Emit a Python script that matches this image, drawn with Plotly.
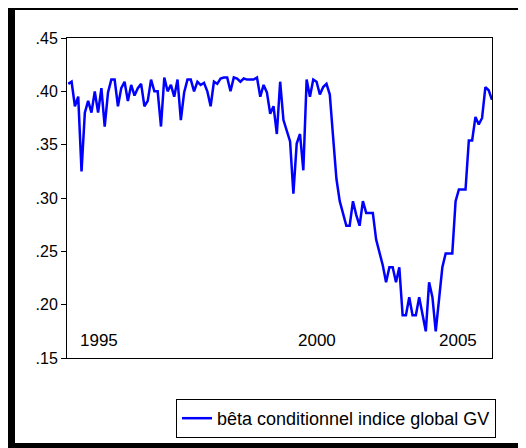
import plotly.graph_objects as go

series_name = "bêta conditionnel indice global GV"

beta_values = [
    0.407, 0.409, 0.386, 0.395, 0.325, 0.380, 0.391, 0.380, 0.400, 0.380,
    0.403, 0.367, 0.399, 0.411, 0.411, 0.386, 0.403, 0.409, 0.391, 0.406,
    0.396, 0.403, 0.407, 0.386, 0.391, 0.411, 0.400, 0.400, 0.367, 0.413,
    0.400, 0.406, 0.395, 0.411, 0.373, 0.399, 0.411, 0.411, 0.400, 0.409,
    0.406, 0.408, 0.400, 0.386, 0.409, 0.407, 0.412, 0.413, 0.413, 0.400,
    0.413, 0.412, 0.409, 0.412, 0.411, 0.411, 0.411, 0.413, 0.395, 0.406,
    0.399, 0.379, 0.386, 0.360,
    0.409, 0.373, 0.364, 0.353, 0.304, 0.351, 0.360, 0.326, 0.411, 0.395,
    0.411, 0.409, 0.397, 0.404, 0.407, 0.397, 0.357, 0.318, 0.297, 0.286,
    0.274, 0.274, 0.297, 0.284, 0.274, 0.297, 0.286, 0.286, 0.286, 0.261,
    0.250, 0.237, 0.221, 0.235, 0.235, 0.221, 0.235, 0.190, 0.190, 0.207,
    0.190, 0.190, 0.207, 0.190, 0.175, 0.221, 0.207, 0.175, 0.207, 0.235,
    0.248, 0.248, 0.248, 0.297, 0.308, 0.308, 0.308, 0.354, 0.354, 0.376,
    0.369, 0.375, 0.404, 0.401, 0.392,
]
obs_index = list(range(len(beta_values)))

year_labels = ["1995", "2000", "2005"]
year_tick_index = [9.3, 75.1, 117.7]

y_tick_values = [0.15, 0.20, 0.25, 0.30, 0.35, 0.40, 0.45]
y_tick_labels = [".15", ".20", ".25", ".30", ".35", ".40", ".45"]

FONT = "Liberation Sans, Arial, sans-serif"

fig = go.Figure()
fig.add_trace(go.Scatter(
    x=obs_index, y=beta_values, mode="lines", name=series_name,
    line=dict(color="#0000FF", width=2.5), showlegend=True,
))

# page body has an 8px margin, so figure px = window px - 8
W, H = 526, 448
L, T = 59, 30
pw, ph = 425, 320
R, B = W - L - pw, H - T - ph


def px_x(px):
    return (px - 67) / pw


def px_y(py):
    return (358 - py) / ph


frame = [
    (8, 5, 540, 10),
    (8, 5, 15, 460),
    (8, 443, 540, 460),
]
shapes = []
for x0, y0, x1, y1 in frame:
    shapes.append(dict(type="rect", xref="paper", yref="paper",
                       x0=px_x(x0), x1=px_x(x1), y0=px_y(y1), y1=px_y(y0),
                       fillcolor="black", line=dict(width=0), layer="above"))

annotations = []
for xv, lab in zip(year_tick_index, year_labels):
    annotations.append(dict(x=xv, y=px_y(340), xref="x", yref="paper",
                            text=lab, showarrow=False, xanchor="center",
                            yanchor="middle", font=dict(size=17, family=FONT,
                                                        color="black")))

fig.update_layout(
    width=W, height=H,
    margin=dict(l=L, r=R, t=T, b=B, autoexpand=False),
    paper_bgcolor="white", plot_bgcolor="white",
    font=dict(family=FONT, color="black", size=16),
    shapes=shapes,
    annotations=annotations,
    showlegend=True,
    legend=dict(x=px_x(496), xanchor="right", y=px_y(399), yanchor="top",
                bordercolor="black", borderwidth=1, bgcolor="white",
                font=dict(size=18, family=FONT, color="black")),
    xaxis=dict(range=[-0.39, 128.0], showgrid=False, zeroline=False,
               showline=True, linecolor="black", linewidth=1, mirror=True,
               showticklabels=False, ticks="", automargin=False),
    yaxis=dict(range=[0.15, 0.45], showgrid=False, zeroline=False,
               showline=True, linecolor="black", linewidth=1, mirror=True,
               tickmode="array", tickvals=y_tick_values, ticktext=y_tick_labels,
               ticks="outside", ticklen=5, tickcolor="black", tickwidth=1,
               tickfont=dict(size=16), automargin=False),
)

fig.write_html("out.html")
